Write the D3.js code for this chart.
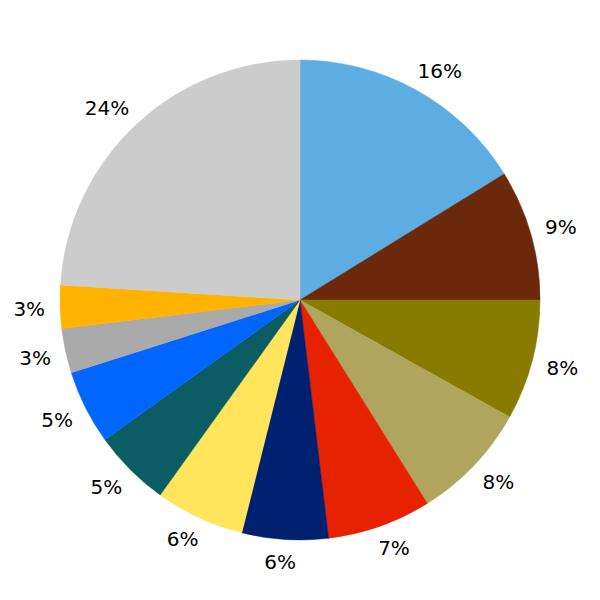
<!DOCTYPE html>
<html>
<head>
<meta charset="utf-8">
<script src="https://cdn.jsdelivr.net/npm/d3@7"></script>
<style>
  html, body { margin: 0; padding: 0; background: #ffffff; }
  svg { display: block; }
</style>
</head>
<body>
<svg id="chart" width="600" height="600"></svg>
<script>
const categories = ["A", "B", "C", "D", "E", "F", "G", "H", "I", "J", "K", "L"];
const values = [16.2, 8.8, 8.1, 8.0, 7.0, 5.8, 6.0, 5.2, 5.0, 3.0, 2.9, 24.0];
const colors = ["#5dade2", "#6b280b", "#877c00", "#b0a55d", "#e62200", "#002070",
                "#ffe45c", "#0b5c63", "#0066ff", "#aaaaaa", "#ffb300", "#cccccc"];

const svg = d3.select("#chart");
const cx = 300, cy = 300, radius = 240, labelGap = 255, fontSize = 20;

const total = d3.sum(values);
const data = categories.map((c, i) => ({ cat: c, value: values[i], color: colors[i] }));

const pie = d3.pie().value(d => d.value).sort(null);
const arc = d3.arc().innerRadius(0).outerRadius(radius);

const g = svg.append("g").attr("transform", `translate(${cx},${cy})`);
const arcs = pie(data);

g.selectAll("path.slice")
  .data(arcs)
  .join("path")
  .attr("class", "slice")
  .attr("d", arc)
  .attr("fill", d => d.data.color)
  .attr("stroke", d => d.data.color)
  .attr("stroke-width", 0.5);

const labels = g.selectAll("text.lbl")
  .data(arcs)
  .join("text")
  .attr("class", "lbl")
  .attr("text-anchor", "middle")
  .attr("font-family", "DejaVu Sans, sans-serif")
  .attr("font-size", fontSize)
  .attr("fill", "#000")
  .text(d => Math.round(d.data.value / total * 100) + "%");

const halfCap = fontSize * 0.729 / 2;
labels.each(function(d) {
  const a = (d.startAngle + d.endAngle) / 2;
  const s = Math.sin(a), c = Math.cos(a);
  const w = this.getComputedTextLength() / 2;
  const x = labelGap * s + w * Math.sign(s) * Math.sqrt(Math.abs(s));
  const y = -labelGap * c - halfCap * Math.sign(c) * Math.sqrt(Math.abs(c));
  d3.select(this).attr("x", x).attr("y", y + halfCap);
});
</script>
</body>
</html>
